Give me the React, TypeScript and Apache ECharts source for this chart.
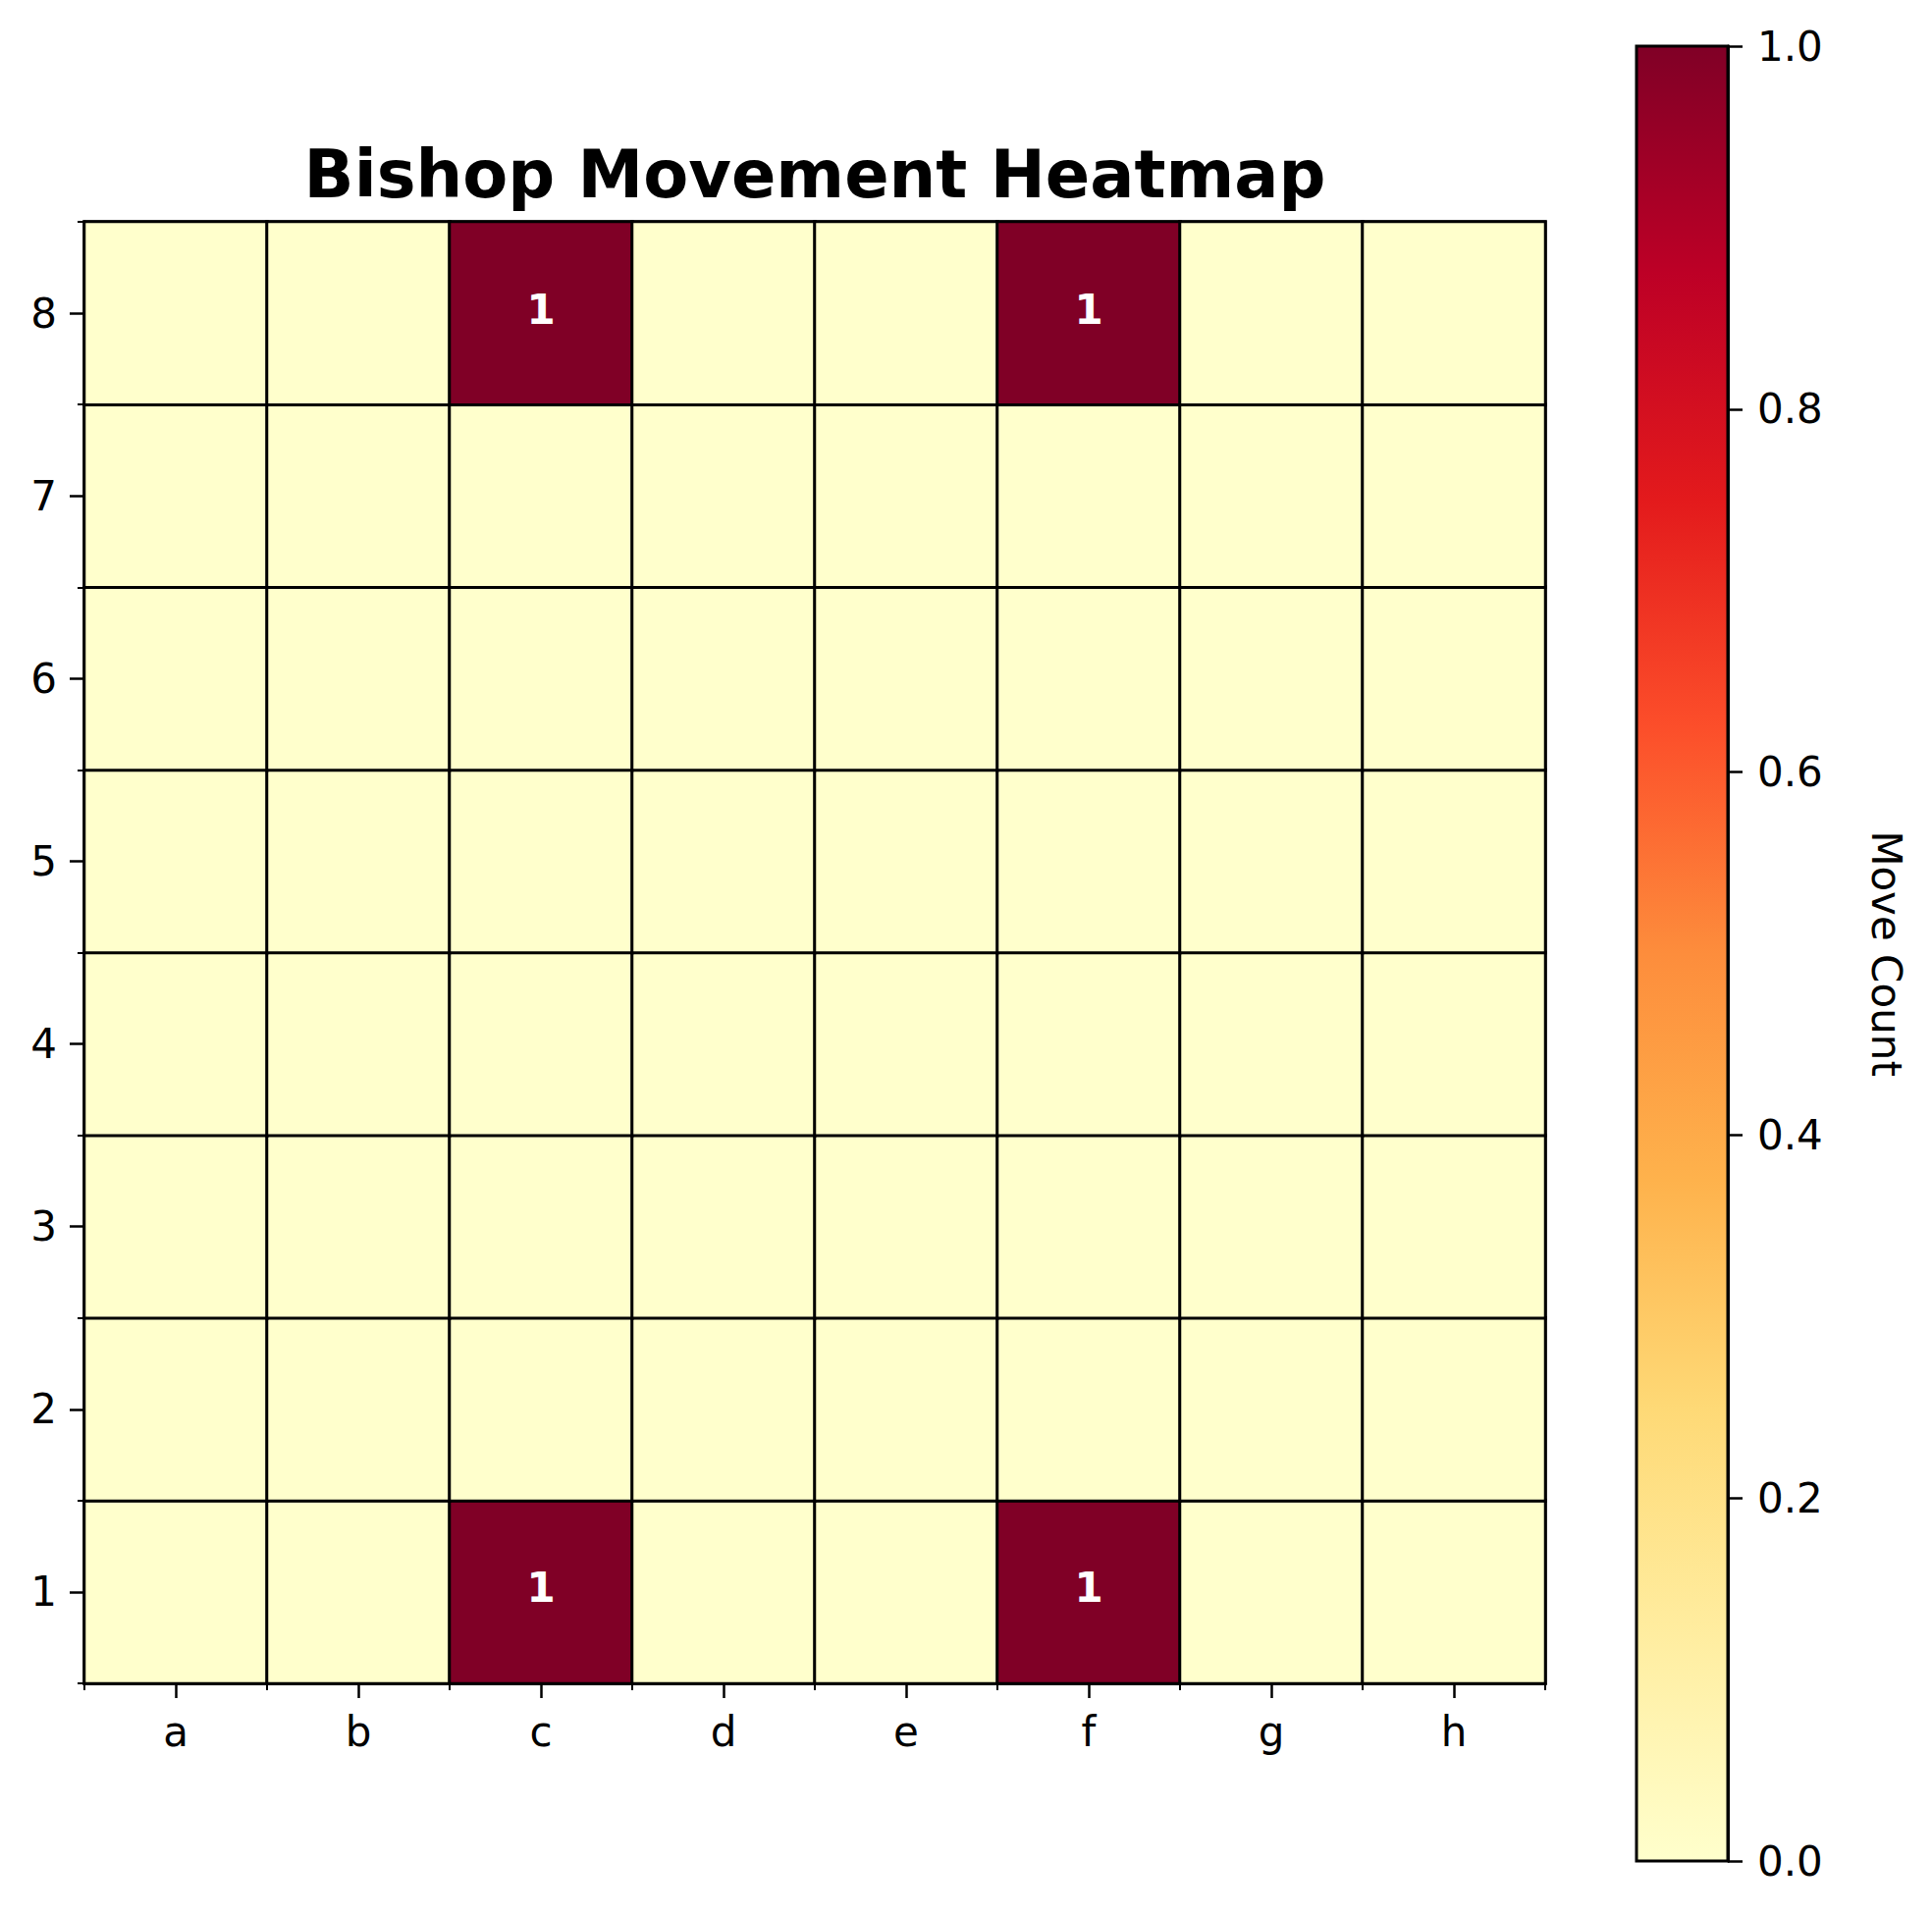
import React, { useEffect, useRef } from "react";
import * as echarts from "echarts";

const files = ["a", "b", "c", "d", "e", "f", "g", "h"];
const ranks = ["1", "2", "3", "4", "5", "6", "7", "8"];

// Move counts per rank (files a..h)
const rank1 = [0, 0, 1, 0, 0, 1, 0, 0];
const rank2 = [0, 0, 0, 0, 0, 0, 0, 0];
const rank3 = [0, 0, 0, 0, 0, 0, 0, 0];
const rank4 = [0, 0, 0, 0, 0, 0, 0, 0];
const rank5 = [0, 0, 0, 0, 0, 0, 0, 0];
const rank6 = [0, 0, 0, 0, 0, 0, 0, 0];
const rank7 = [0, 0, 0, 0, 0, 0, 0, 0];
const rank8 = [0, 0, 1, 0, 0, 1, 0, 0];
const rankRows = [rank1, rank2, rank3, rank4, rank5, rank6, rank7, rank8];

const ylOrRd = [
  "#ffffcc",
  "#ffeda0",
  "#fed976",
  "#feb24c",
  "#fd8d3c",
  "#fc4e2a",
  "#e31a1c",
  "#bd0026",
  "#800026",
];
const colorbarMin = 0;
const colorbarMax = 1;
const colorbarStep = 0.2;

const FONT = "DejaVu Sans";

export default function App() {
  const ref = useRef<HTMLDivElement>(null);

  useEffect(() => {
    if (!ref.current) return;
    const chart = echarts.init(ref.current, null, { renderer: "svg" });

    const heatData: number[][] = [];
    rankRows.forEach((row, y) => {
      row.forEach((v, x) => heatData.push([x, y, v]));
    });

    const plotLeft = 86;
    const plotTop = 226;
    const plotW = 1488;
    const plotH = 1489;

    const tickLabel = { fontFamily: FONT, fontSize: 42, color: "#000" };

    chart.setOption({
      animation: false,
      backgroundColor: "#fff",
      title: {
        text: "Bishop Movement Heatmap",
        left: plotLeft + plotW / 2 - 5,
        textAlign: "center",
        top: 139,
        textStyle: { fontFamily: FONT, fontSize: 67, fontWeight: "bold", color: "#000" },
      },
      visualMap: {
        show: false,
        type: "continuous",
        seriesIndex: 0,
        min: colorbarMin,
        max: colorbarMax,
        inRange: { color: ylOrRd },
      },
      grid: [
        {
          left: plotLeft,
          top: plotTop,
          width: plotW,
          height: plotH,
          show: true,
          borderColor: "#000",
          borderWidth: 3,
          backgroundColor: "transparent",
        },
        {
          left: 1667,
          top: 47,
          width: 93,
          height: 1849,
          show: true,
          borderColor: "#000",
          borderWidth: 3,
          z: 10,
        },
      ],
      xAxis: [
        {
          gridIndex: 0,
          type: "category",
          data: files,
          position: "bottom",
          axisLine: { show: true, lineStyle: { color: "#000", width: 3 } },
          axisTick: { show: true, alignWithLabel: true, length: 15, lineStyle: { color: "#000", width: 2.5 } },
          axisLabel: { ...tickLabel, margin: 28 },
          splitLine: { show: false },
        },
        {
          gridIndex: 0,
          type: "category",
          data: files,
          position: "bottom",
          axisLine: { show: false },
          axisTick: { show: true, length: 7, lineStyle: { color: "#000", width: 2 } },
          axisLabel: { show: false },
          splitLine: { show: false },
        },
        {
          gridIndex: 1,
          type: "category",
          data: ["cb"],
          show: false,
        },
      ],
      yAxis: [
        {
          gridIndex: 0,
          type: "category",
          data: ranks,
          position: "left",
          axisLine: { show: true, lineStyle: { color: "#000", width: 3 } },
          axisTick: { show: true, alignWithLabel: true, length: 15, lineStyle: { color: "#000", width: 2.5 } },
          axisLabel: { ...tickLabel, margin: 28 },
          splitLine: { show: false },
        },
        {
          gridIndex: 0,
          type: "category",
          data: ranks,
          position: "left",
          axisLine: { show: false },
          axisTick: { show: true, length: 7, lineStyle: { color: "#000", width: 2 } },
          axisLabel: { show: false },
          splitLine: { show: false },
        },
        {
          gridIndex: 1,
          type: "value",
          min: colorbarMin,
          max: colorbarMax,
          interval: colorbarStep,
          position: "right",
          axisLine: { show: true, lineStyle: { color: "#000", width: 3 } },
          axisTick: { show: true, length: 15, lineStyle: { color: "#000", width: 2.5 } },
          axisLabel: { ...tickLabel, margin: 30, formatter: (v: number) => v.toFixed(1) },
          splitLine: { show: false },
          name: "Move Count",
          nameLocation: "middle",
          nameRotate: -90,
          nameGap: 140,
          nameTextStyle: { fontFamily: FONT, fontSize: 42, color: "#000" },
        },
      ],
      series: [
        {
          type: "heatmap",
          xAxisIndex: 0,
          yAxisIndex: 0,
          data: heatData,
          itemStyle: { borderColor: "#000", borderWidth: 3 },
          label: {
            show: true,
            fontFamily: FONT,
            fontSize: 42,
            fontWeight: "bold",
            color: "#fff",
            offset: [0, -4],
            formatter: (p: any) => (p.value[2] > 0 ? String(p.value[2]) : ""),
          },
          emphasis: { disabled: true },
        },
        {
          type: "bar",
          xAxisIndex: 2,
          yAxisIndex: 2,
          data: [colorbarMax],
          barWidth: "100%",
          silent: true,
          itemStyle: {
            color: new echarts.graphic.LinearGradient(
              0,
              1,
              0,
              0,
              ylOrRd.map((c, i) => ({ offset: i / (ylOrRd.length - 1), color: c }))
            ),
          },
        },
      ],
    });

    return () => chart.dispose();
  }, []);

  return (
    <div
      ref={ref}
      style={{ position: "absolute", left: 0, top: 0, width: 1968, height: 1950, background: "#fff" }}
    />
  );
}
